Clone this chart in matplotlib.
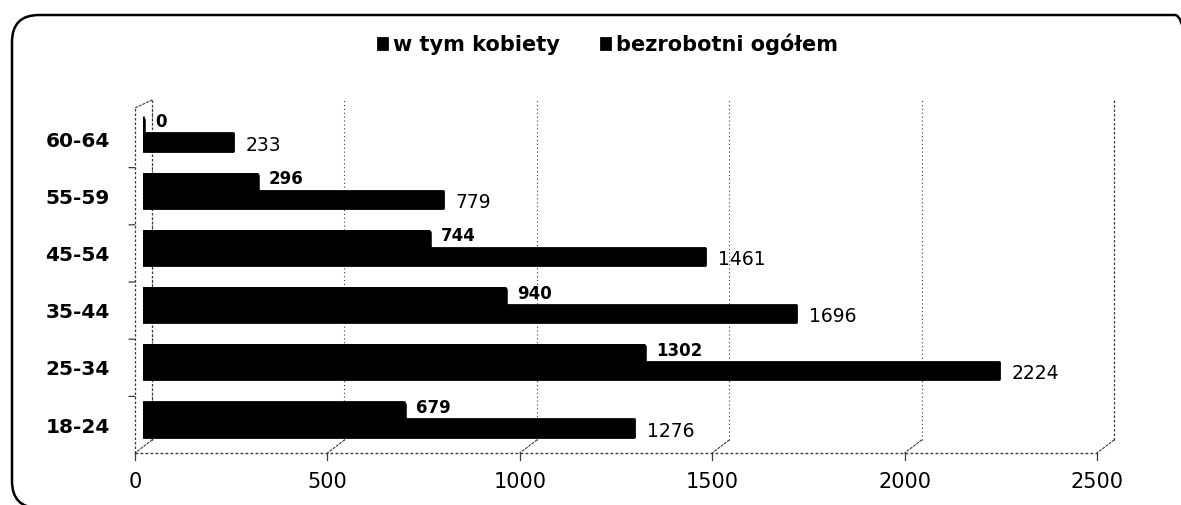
import numpy as np
import matplotlib
matplotlib.use("Agg")
import matplotlib.pyplot as plt
from matplotlib.patches import FancyBboxPatch
from matplotlib.transforms import blended_transform_factory, offset_copy

# data
age_groups = ["18-24", "25-34", "35-44", "45-54", "55-59", "60-64"]
women = [679, 1302, 940, 744, 296, 0]
total = [1276, 2224, 1696, 1461, 779, 233]
x_ticks = [0, 500, 1000, 1500, 2000, 2500]
legend_labels = ["w tym kobiety", "bezrobotni ogółem"]

plt.rcParams['font.family'] = ['DejaVu Sans']

fig = plt.figure(figsize=(11.81, 5.05), dpi=100)
W, H = 1181, 505
# axes: data 0 at x=143px, 2500 at 1105px; floor at y=453px, top at 100px
ax = fig.add_axes([143 / W, 1 - 453 / H, 962 / W, 353 / H])
ax.set_xlim(0, 2500)
ax.set_ylim(-0.4895, 5.682)
for s in ax.spines.values():
    s.set_visible(False)

y = np.arange(len(age_groups))
line_col = '#3a3a3a'
dash = (0, (2, 1.6))

# 3d frame: front plane shifted left, back plane shifted right and up
blend = blended_transform_factory(ax.transData, ax.transAxes)
front = offset_copy(blend, fig=fig, x=-8, y=0, units='dots')
back = offset_copy(blend, fig=fig, x=9, y=13, units='dots')
back_top = (353 - 13) / 353
front_top = (353 - 8) / 353

# back wall gridlines
for xv in x_ticks:
    ax.plot([xv, xv], [0, back_top], transform=back, color=line_col,
            lw=0.8, linestyle=(0, (1, 2.5)), zorder=1)
# floor front edge, ticks and depth lines
ax.plot([0, 2500], [0, 0], transform=front, color=line_col, lw=1.0,
        linestyle=dash, zorder=1, clip_on=False)
lbl_tr = offset_copy(blend, fig=fig, x=-8, y=-29, units='dots')
for xv in x_ticks:
    ax.plot([xv, xv], [0, -7 / 353], transform=front, color=line_col,
            lw=0.9, zorder=1, clip_on=False)
    ax.annotate('', xy=(xv, 0), xycoords=front, xytext=(xv, 0), textcoords=back,
                arrowprops=dict(arrowstyle='-', color=line_col, lw=0.8,
                                linestyle=dash, shrinkA=0, shrinkB=0),
                zorder=1, annotation_clip=False)
    ax.text(xv, 0, str(xv), transform=lbl_tr, ha='center', va='center',
            fontsize=15, color='black', clip_on=False)

# left wall
ax.plot([0, 0], [0, front_top], transform=front, color=line_col, lw=0.9,
        linestyle=dash, zorder=1, clip_on=False)
ax.plot([0, 0], [0, back_top], transform=back, color=line_col, lw=0.9,
        linestyle=dash, zorder=1, clip_on=False)
ax.annotate('', xy=(0, front_top), xycoords=front, xytext=(0, back_top), textcoords=back,
            arrowprops=dict(arrowstyle='-', color=line_col, lw=0.8, linestyle=dash,
                            shrinkA=0, shrinkB=0), zorder=1, annotation_clip=False)
wall_a = offset_copy(ax.transData, fig=fig, x=-8, y=0, units='dots')
wall_b = offset_copy(ax.transData, fig=fig, x=-14, y=0, units='dots')
for yb in y[:-1] + 0.5:
    ax.annotate('', xy=(0, yb), xycoords=wall_a, xytext=(0, yb), textcoords=wall_b,
                arrowprops=dict(arrowstyle='-', color=line_col, lw=0.9,
                                shrinkA=0, shrinkB=0), zorder=1, annotation_clip=False)
# right wall
ax.plot([2500, 2500], [0, back_top], transform=back, color=line_col, lw=0.9,
        linestyle=dash, zorder=1, clip_on=False)

# bars: women series sits behind, total in front
b_women = ax.barh(y + 0.227, women, height=0.336, color='black', edgecolor='black',
                  linewidth=2, joinstyle='round', zorder=2, label=legend_labels[0])
b_total = ax.barh(y - 0.0524, total, height=0.301, color='black', edgecolor='black',
                  linewidth=2, joinstyle='round', zorder=4, label=legend_labels[1])
# the zero bar still shows its 3d side as a thin sliver
ax.barh(y + 0.227, women, height=0.26, left=0, color='black', edgecolor='black',
        linewidth=4, joinstyle='round', zorder=2)

w_tr = offset_copy(ax.transData, fig=fig, x=12, y=0, units='dots')
t_tr = offset_copy(ax.transData, fig=fig, x=13, y=0, units='dots')
for yi, v in zip(y, women):
    ax.text(v, yi + 0.297, str(v), transform=w_tr, ha='left', va='center',
            fontsize=12, fontweight='bold', color='black', zorder=3)
for yi, v in zip(y, total):
    ax.text(v, yi - 0.105, str(v), transform=t_tr, ha='left', va='center',
            fontsize=13.5, color='black', zorder=5)

ax.set_xticks([])
ax.set_yticks(y)
ax.set_yticklabels(age_groups, fontsize=14.5, fontweight='bold')
ax.tick_params(axis='y', length=0, pad=24)

leg = fig.legend(handles=[b_women, b_total], labels=legend_labels, ncol=2,
                 loc='center', bbox_to_anchor=(0.515, 0.912), frameon=False,
                 prop={'weight': 'bold', 'size': 15}, handlelength=0.4,
                 handleheight=0.4, handletextpad=0.3, columnspacing=2.0)

# rounded outer border of the chart area
border = FancyBboxPatch((0.12, -0.03), 11.9, 4.93,
                        boxstyle='round,pad=0,rounding_size=0.27',
                        transform=fig.dpi_scale_trans, fill=False,
                        edgecolor='black', linewidth=1.8)
fig.add_artist(border)

fig.savefig('out.png', dpi=100)
